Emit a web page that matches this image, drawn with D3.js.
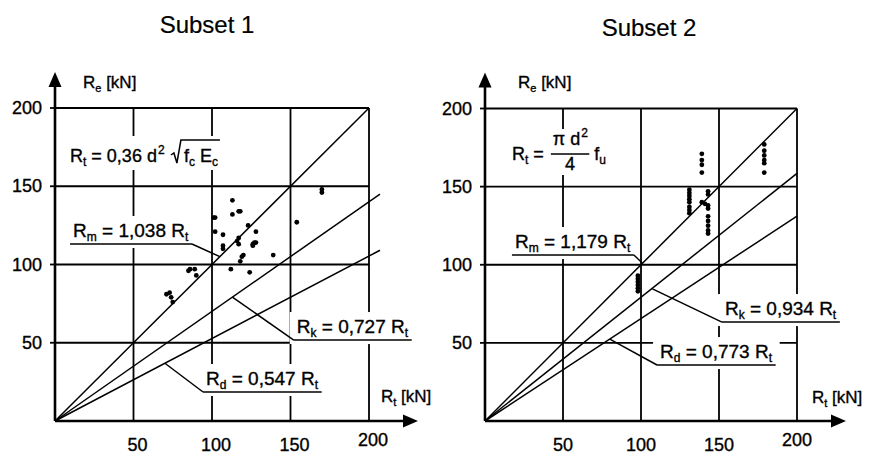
<!DOCTYPE html>
<html lang="en">
<head>
    <meta charset="UTF-8">
    <title>Subset 1 / Subset 2</title>
    <script src="https://cdnjs.cloudflare.com/ajax/libs/d3/7.8.5/d3.min.js"></script>
    <style>
        html, body {
            margin: 0;
            background: #fff;
        }

        svg {
            font-family: "Liberation Sans", Arial, sans-serif;
        }

        svg text {
            stroke: #000;
            stroke-width: 0.35px;
        }

        .grid {
            stroke: #000;
            stroke-width: 1.8px;
        }

        .axis {
            stroke: #000;
            stroke-width: 2.6px;
        }

        .ratio, .leader {
            fill: none;
            stroke: #000;
            stroke-width: 1.5px;
        }
    </style>
</head>
<body>
<script>

    var titles = ["Subset 1", "Subset 2"];
    var tickValues = [50, 100, 150, 200];
    var ratioNames = ["m", "k", "d"];

    // R = coef * Rt, coefficient for mean (m), characteristic (k), design (d)
    var subset1Coefs = [1.038, 0.727, 0.547];
    var subset2Coefs = [1.179, 0.934, 0.773];

    // [Rt, Re] in kN
    var subset1Points = [
        [71, 81], [73, 82], [74, 79], [75, 76],
        [85, 96], [86, 97], [89, 97], [90, 93],
        [101, 130], [102, 130], [102, 121], [107, 119], [107, 110], [107, 112],
        [112, 97], [113, 141], [113, 132], [117, 134], [118, 134],
        [116, 115], [117, 117], [117, 113], [118, 102], [119, 105], [120, 106],
        [123, 125], [124, 95], [126, 113], [127, 114], [128, 114], [128, 121], [126, 112],
        [139, 106], [154, 127], [170, 146], [170, 148]
    ];
    var subset2Points = [
        [98, 93], [98, 91], [98, 89], [98, 87], [98, 85], [98, 83],
        [131, 148], [131, 146], [131, 144], [131, 142], [131, 140], [131, 137], [131, 135], [131, 133],
        [139, 140], [141, 139],
        [143, 147], [143, 145], [143, 138], [143, 136], [143, 131], [143, 128], [143, 125], [143, 122], [143, 120],
        [139, 171], [139, 167], [139, 164], [139, 159],
        [179, 177], [179, 173], [179, 170], [179, 167], [179, 165], [179, 159]
    ];

    // layout only: pixel frame, label anchors in data units [Rt, Re, target Rt on the line]
    var panels = [
        {
            title: titles[0], coefs: subset1Coefs, points: subset1Points,
            left: 55, right: 369, bottom: 421, top: 108, lineEnd: 207,
            titleX: 207, titleY: 33, xTickDx: 4,
            formula: "sqrt", formulaAt: [70, 162],
            labels: [[11.5, 117.6, 105], [154, 56.2, 113], [96.2, 23, 70]],
            xTitleAt: [381, 402], yTitleAt: [83, 88]
        },
        {
            title: titles[1], coefs: subset2Coefs, points: subset2Points,
            left: 485, right: 797, bottom: 421, top: 108.5, lineEnd: 200,
            titleX: 649, titleY: 36, xTickDx: 0,
            formula: "frac", formulaAt: [512, 160],
            labels: [[19.2, 110.7, 101], [153.8, 67.8, 107], [112.2, 40.3, 80]],
            xTitleAt: [812, 403], yTitleAt: [518, 88]
        }
    ];

    var width = 869, height = 454;
    var fmt = function (v) {
        return d3.format(".3f")(v).replace(".", ",");
    };

    var svg = d3.select("body").append("svg")
        .attr("width", width).attr("height", height);

    // text with R + subscript pieces, parts: [string, isSub]
    function richText(g, x, y, size, parts) {
        var t = g.append("text").attr("x", x).attr("y", y).attr("font-size", size);
        var down = false;
        parts.forEach(function (p) {
            var ts = t.append("tspan").text(p[0]);
            if (p[1] && !down) {
                ts.attr("font-size", Math.round(size * 0.64)).attr("dy", 4);
                down = true;
            } else if (!p[1] && down) {
                ts.attr("dy", -4);
                down = false;
            } else if (p[1]) {
                ts.attr("font-size", Math.round(size * 0.64));
            }
        });
        return t;
    }

    function whiteBox(layer, box, padX, padY) {
        layer.append("rect")
            .attr("x", box.x - padX).attr("y", box.y - padY)
            .attr("width", box.width + 2 * padX).attr("height", box.height + 2 * padY)
            .attr("fill", "#fff");
    }

    panels.forEach(function (p) {
        var x = d3.scaleLinear().domain([0, 200]).range([p.left, p.right]);
        var y = d3.scaleLinear().domain([0, 200]).range([p.bottom, p.top]);
        var g = svg.append("g");

        g.append("text")
            .attr("x", p.titleX).attr("y", p.titleY)
            .attr("text-anchor", "middle").attr("font-size", 24)
            .style("stroke-width", "0.2px")
            .text(p.title);

        // grid
        g.selectAll(".hgrid").data(tickValues).enter().append("line")
            .attr("class", "grid")
            .attr("x1", x(0)).attr("x2", x(200))
            .attr("y1", function (d) { return y(d); })
            .attr("y2", function (d) { return y(d); });
        g.selectAll(".vgrid").data(tickValues).enter().append("line")
            .attr("class", "grid")
            .attr("y1", y(0)).attr("y2", y(200))
            .attr("x1", function (d) { return x(d); })
            .attr("x2", function (d) { return x(d); });

        var bgLayer = g.append("g");

        // ratio lines, drawn relative to the mean line
        var km = p.coefs[0];
        g.selectAll(".ratio").data(p.coefs).enter().append("line")
            .attr("class", "ratio")
            .attr("x1", x(0)).attr("y1", y(0))
            .attr("x2", function (c) { return x(Math.min(p.lineEnd, 200 / (c / km))); })
            .attr("y2", function (c) { return y(Math.min(p.lineEnd, 200 / (c / km)) * c / km); });

        g.selectAll(".dot").data(p.points).enter().append("circle")
            .attr("r", 2.4)
            .attr("cx", function (d) { return x(d[0]); })
            .attr("cy", function (d) { return y(d[1]); });

        // axes with arrows
        g.append("line").attr("class", "axis")
            .attr("x1", x(0)).attr("y1", y(0)).attr("x2", x(200) + 36).attr("y2", y(0));
        g.append("line").attr("class", "axis")
            .attr("x1", x(0)).attr("y1", y(0)).attr("x2", x(0)).attr("y2", y(200) - 22);
        var xt = x(200) + 49, yt = y(200) - 36;
        g.append("path")
            .attr("d", "M" + xt + "," + y(0) + "L" + (xt - 15) + "," + (y(0) - 6.5) + "L" + (xt - 15) + "," + (y(0) + 6.5) + "Z");
        g.append("path")
            .attr("d", "M" + x(0) + "," + yt + "L" + (x(0) - 6.5) + "," + (yt + 15) + "L" + (x(0) + 6.5) + "," + (yt + 15) + "Z");

        // ticks
        g.selectAll(".ytick").data(tickValues).enter().append("line")
            .attr("class", "grid")
            .attr("x1", x(0) - 5).attr("x2", x(0))
            .attr("y1", function (d) { return y(d); })
            .attr("y2", function (d) { return y(d); });
        g.selectAll(".ylab").data(tickValues).enter().append("text")
            .attr("x", x(0) - 13)
            .attr("y", function (d) { return y(d) + 6; })
            .attr("text-anchor", "end").attr("font-size", 18)
            .text(function (d) { return d; });
        g.selectAll(".xlab").data(tickValues).enter().append("text")
            .attr("x", function (d) { return x(d) + p.xTickDx; })
            .attr("y", function (d) { return d === 200 ? 446 : 451; })
            .attr("text-anchor", "middle").attr("font-size", 18)
            .text(function (d) { return d; });

        // axis titles
        richText(g, p.yTitleAt[0], p.yTitleAt[1], 17, [["R", false], ["e", true], [" [kN]", false]]);
        var xTitle = richText(g, p.xTitleAt[0], p.xTitleAt[1], 17, [["R", false], ["t", true], [" [kN]", false]]);
        whiteBox(bgLayer, xTitle.node().getBBox(), 2, 1);

        // formula for Rt
        var fx = p.formulaAt[0], fy = p.formulaAt[1];
        if (p.formula === "sqrt") {
            var f1 = richText(g, fx, fy, 18, [["R", false], ["t", true], [" = 0,36 d", false]]);
            var b1 = f1.node().getBBox();
            g.append("text").attr("x", b1.x + b1.width + 1).attr("y", fy - 8)
                .attr("font-size", 12).text("2");
            var r0 = b1.x + b1.width + 14;
            var f2 = richText(g, r0 + 13, fy, 18, [["f", false], ["c", true], [" E", false], ["c", true]]);
            var b2 = f2.node().getBBox();
            g.append("path").attr("class", "leader")
                .attr("d", "M" + r0 + "," + (fy - 7) + "L" + (r0 + 3) + "," + (fy - 9) + "L" + (r0 + 6) + "," + (fy + 1) +
                    "L" + (r0 + 10) + "," + (fy - 22) + "L" + (b2.x + b2.width + 2) + "," + (fy - 22));
            whiteBox(bgLayer, {x: fx, y: fy - 24, width: b2.x + b2.width - fx, height: 30}, 5, 2);
        } else {
            var e1 = richText(g, fx, fy, 18, [["R", false], ["t", true], [" =", false]]);
            var eb = e1.node().getBBox();
            var bx = eb.x + eb.width + 7;
            var num = g.append("text").attr("x", bx + 2).attr("y", fy - 15).attr("font-size", 18).text("\u03c0 d");
            var nb = num.node().getBBox();
            g.append("text").attr("x", nb.x + nb.width + 1).attr("y", fy - 23).attr("font-size", 12).text("2");
            var barEnd = nb.x + nb.width + 9;
            g.append("line").attr("class", "leader")
                .attr("x1", bx).attr("x2", barEnd).attr("y1", fy - 6).attr("y2", fy - 6);
            g.append("text").attr("x", (bx + barEnd) / 2).attr("y", fy + 10)
                .attr("text-anchor", "middle").attr("font-size", 18).text("4");
            var fu = richText(g, barEnd + 5, fy, 18, [["f", false], ["u", true]]);
            var fb = fu.node().getBBox();
            whiteBox(bgLayer, {x: fx, y: fy - 30, width: fb.x + fb.width - fx, height: 44}, 5, 1);
        }

        // ratio labels with underline and leader
        p.labels.forEach(function (l, i) {
            var coef = p.coefs[i];
            var tx = x(l[0]), ty = y(l[1]);
            var t = richText(g, tx, ty, 19, [["R", false], [ratioNames[i], true], [" = " + fmt(coef) + " R", false], ["t", true]]);
            var b = t.node().getBBox();
            var u0 = b.x - 3, u1 = b.x + b.width + 3, uy = ty + 7;
            var target = [x(l[2]), y(l[2] * coef / km)];
            var from = target[0] < u0 ? u0 : u1;
            g.append("line").attr("class", "leader")
                .attr("x1", u0).attr("x2", u1).attr("y1", uy).attr("y2", uy);
            g.append("line").attr("class", "leader")
                .attr("x1", from).attr("y1", uy).attr("x2", target[0]).attr("y2", target[1]);
            whiteBox(bgLayer, {x: u0, y: b.y, width: u1 - u0, height: uy - b.y}, 4, 4);
        });
    });

</script>
</body>
</html>
